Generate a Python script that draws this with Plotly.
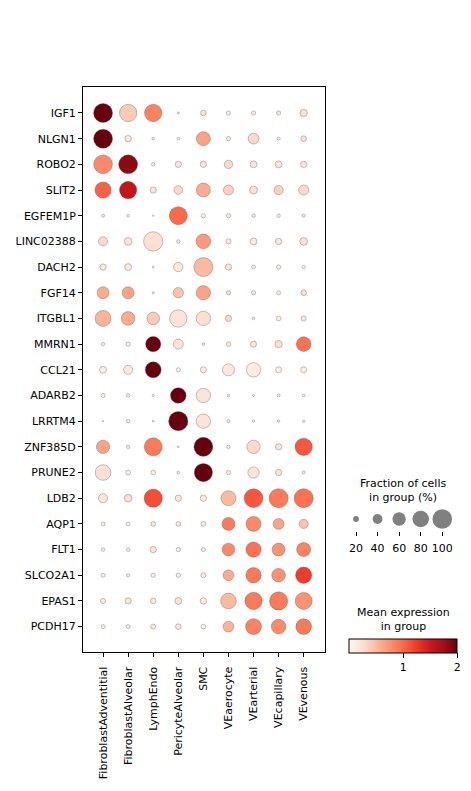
import plotly.graph_objects as go

genes = ["IGF1", "NLGN1", "ROBO2", "SLIT2", "EGFEM1P", "LINC02388", "DACH2", "FGF14",
         "ITGBL1", "MMRN1", "CCL21", "ADARB2", "LRRTM4", "ZNF385D", "PRUNE2", "LDB2",
         "AQP1", "FLT1", "SLCO2A1", "EPAS1", "PCDH17"]
groups = ["FibroblastAdventitial", "FibroblastAlveolar", "LymphEndo", "PericyteAlveolar",
          "SMC", "VEaerocyte", "VEarterial", "VEcapillary", "VEvenous"]

# fraction of cells in group (%), one row per gene, columns follow `groups`
frac_pct = [
    [96, 85, 85, 5, 19, 13, 13, 13, 27],    # IGF1
    [96, 23, 7, 7, 64, 13, 45, 9, 19],      # NLGN1
    [94, 96, 10, 22, 22, 32, 25, 25, 22],   # ROBO2
    [78, 85, 22, 34, 64, 41, 30, 37, 41],   # SLIT2
    [8, 7, 3, 89, 13, 13, 10, 10, 9],       # EGFEM1P
    [36, 29, 98, 10, 68, 17, 25, 22, 29],   # LINC02388
    [22, 25, 4, 37, 96, 22, 12, 13, 9],     # DACH2
    [52, 52, 5, 43, 66, 13, 13, 12, 19],    # FGF14
    [76, 62, 56, 85, 66, 22, 7, 15, 17],    # ITGBL1
    [10, 13, 72, 41, 7, 15, 21, 27, 68],    # MMRN1
    [25, 36, 76, 13, 21, 52, 66, 21, 21],   # CCL21
    [13, 10, 5, 74, 66, 7, 5, 8, 7],        # ADARB2
    [3, 10, 4, 98, 66, 8, 6, 6, 6],         # LRRTM4
    [60, 10, 89, 4, 96, 10, 60, 22, 85],    # ZNF385D
    [74, 15, 15, 7, 91, 13, 48, 22, 8],     # PRUNE2
    [36, 29, 91, 22, 22, 70, 94, 96, 96],   # LDB2
    [12, 12, 15, 15, 16, 58, 70, 46, 36],   # AQP1
    [10, 10, 22, 13, 12, 56, 72, 58, 64],   # FLT1
    [12, 9, 13, 13, 16, 45, 72, 62, 78],    # SLCO2A1
    [17, 22, 19, 25, 23, 74, 85, 91, 83],   # EPAS1
    [12, 12, 16, 19, 15, 45, 76, 68, 74],   # PCDH17
]

# mean expression in group
mean_expr = [
    [2.0, 0.40, 0.85, 0.10, 0.20, 0.10, 0.10, 0.15, 0.25],   # IGF1
    [2.0, 0.15, 0.10, 0.10, 0.65, 0.10, 0.30, 0.10, 0.20],   # NLGN1
    [0.80, 1.85, 0.10, 0.20, 0.20, 0.30, 0.20, 0.20, 0.20],  # ROBO2
    [1.05, 1.55, 0.20, 0.30, 0.60, 0.35, 0.25, 0.35, 0.30],  # SLIT2
    [0.10, 0.10, 0.10, 1.00, 0.10, 0.10, 0.10, 0.10, 0.10],  # EGFEM1P
    [0.30, 0.20, 0.25, 0.10, 0.70, 0.10, 0.15, 0.15, 0.25],  # LINC02388
    [0.15, 0.15, 0.10, 0.15, 0.50, 0.20, 0.10, 0.10, 0.10],  # DACH2
    [0.60, 0.65, 0.10, 0.45, 0.65, 0.25, 0.15, 0.10, 0.25],  # FGF14
    [0.55, 0.60, 0.40, 0.20, 0.25, 0.30, 0.10, 0.10, 0.15],  # ITGBL1
    [0.10, 0.10, 2.0, 0.20, 0.10, 0.15, 0.20, 0.25, 0.95],   # MMRN1
    [0.10, 0.15, 2.0, 0.05, 0.10, 0.15, 0.12, 0.10, 0.10],   # CCL21
    [0.10, 0.10, 0.10, 2.0, 0.20, 0.10, 0.10, 0.10, 0.10],   # ADARB2
    [0.10, 0.10, 0.10, 2.0, 0.20, 0.10, 0.10, 0.10, 0.10],   # LRRTM4
    [0.65, 0.10, 0.90, 0.10, 2.0, 0.10, 0.30, 0.20, 1.10],   # ZNF385D
    [0.25, 0.10, 0.10, 0.10, 2.0, 0.10, 0.20, 0.20, 0.10],   # PRUNE2
    [0.20, 0.25, 1.15, 0.15, 0.15, 0.50, 1.10, 0.90, 0.95],  # LDB2
    [0.10, 0.10, 0.15, 0.15, 0.15, 0.90, 0.80, 0.65, 0.45],  # AQP1
    [0.10, 0.10, 0.20, 0.10, 0.10, 0.80, 0.95, 0.75, 0.85],  # FLT1
    [0.10, 0.10, 0.10, 0.10, 0.15, 0.60, 0.90, 0.75, 1.25],  # SLCO2A1
    [0.10, 0.20, 0.15, 0.20, 0.15, 0.50, 0.90, 0.90, 0.75],  # EPAS1
    [0.10, 0.10, 0.15, 0.20, 0.10, 0.55, 0.85, 0.80, 0.90],  # PCDH17
]

size_legend_pct = [20, 40, 60, 80, 100]
colorbar_ticks = [1, 2]

W, H = 471, 791
FONT = "DejaVu Sans"
MAX_D = 19.6  # px diameter of a 100% dot


def dot_size(p):
    return MAX_D * (p / 100.0) ** 0.75


def px_x(px):
    return px / W


def px_y(px):
    return (H - px) / H


xs, ys, sz, col = [], [], [], []
for gi, g in enumerate(genes):
    for ci, c in enumerate(groups):
        xs.append(ci)
        ys.append(gi)
        sz.append(dot_size(frac_pct[gi][ci]))
        col.append(mean_expr[gi][ci])

fig = go.Figure()
fig.add_trace(go.Scatter(
    x=xs, y=ys, mode="markers",
    marker=dict(size=sz, color=col, coloraxis="coloraxis", opacity=1,
                line=dict(color="rgba(90,90,90,0.75)", width=0.5)),
    hoverinfo="skip", showlegend=False, xaxis="x", yaxis="y"))

fig.add_trace(go.Scatter(
    x=size_legend_pct, y=[0.5] * len(size_legend_pct), mode="markers",
    marker=dict(size=[dot_size(v) for v in size_legend_pct], color="#808080",
                opacity=1, line=dict(width=0)),
    hoverinfo="skip", showlegend=False, xaxis="x3", yaxis="y3"))

axis_common = dict(showgrid=False, zeroline=False, ticks="outside", ticklen=4,
                   tickcolor="black", tickwidth=1,
                   tickfont=dict(family=FONT, size=11, color="black"))

fig.update_layout(
    width=W, height=H, autosize=False,
    margin=dict(l=0, r=0, t=0, b=0, pad=0, autoexpand=False),
    paper_bgcolor="white", plot_bgcolor="white",
    font=dict(family=FONT, size=11, color="black"),
    xaxis=dict(domain=[px_x(83), px_x(325)], range=[-0.8, 8.85],
               tickmode="array", tickvals=list(range(len(groups))), ticktext=groups,
               tickangle=-90, showline=True, linecolor="black", linewidth=1,
               mirror=True, anchor="y", ticklabelstandoff=5, **axis_common),
    yaxis=dict(domain=[px_y(652.3), px_y(87.3)], range=[21, -1],
               tickmode="array", tickvals=list(range(len(genes))), ticktext=genes,
               showline=True, linecolor="black", linewidth=1, mirror=True,
               anchor="x", **axis_common),
    xaxis3=dict(domain=[px_x(345), px_x(455)], range=[9.8, 111.8],
                tickmode="array", tickvals=size_legend_pct,
                ticktext=[str(v) for v in size_legend_pct],
                showline=False, anchor="y3", ticklabelstandoff=3, **axis_common),
    yaxis3=dict(domain=[px_y(531), px_y(507)], range=[0, 1], visible=False,
                anchor="x3"),
    coloraxis=dict(
        colorscale="Reds", cmin=0, cmax=2,
        colorbar=dict(
            orientation="h", xref="container", yref="container",
            x=px_x(403.3), xanchor="center", y=px_y(639.3), yanchor="top",
            lenmode="pixels", len=108, thicknessmode="pixels", thickness=14,
            xpad=0, ypad=0, outlinewidth=1, outlinecolor="black",
            tickmode="array", tickvals=colorbar_ticks,
            ticktext=[str(v) for v in colorbar_ticks],
            ticks="outside", ticklen=5, tickcolor="black",
            tickfont=dict(family=FONT, size=11, color="black"),
        ),
    ),
    annotations=[
        dict(text="Fraction of cells<br>in group (%)", xref="paper", yref="paper",
             x=px_x(403), y=px_y(490.5), xanchor="center", yanchor="middle",
             showarrow=False, font=dict(family=FONT, size=11, color="black")),
        dict(text="Mean expression<br>in group", xref="paper", yref="paper",
             x=px_x(403.5), y=px_y(619), xanchor="center", yanchor="middle",
             showarrow=False, font=dict(family=FONT, size=11, color="black")),
    ],
)

fig.write_html("out.html")
